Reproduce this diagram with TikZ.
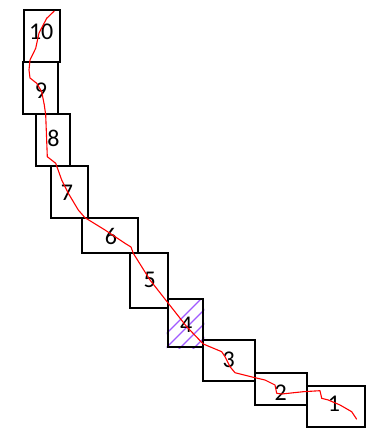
\documentclass[tikz,border=0pt]{standalone}
\usepackage{fontspec}
\setmainfont{Carlito}
\definecolor{hatchviolet}{RGB}{160,90,255}
\begin{document}
\begin{tikzpicture}[
    x=1pt, y=-1pt,
    cell/.style={draw, line width=2pt, inner sep=0pt},
    num/.style={inner sep=0pt, font=\fontsize{24}{26}\selectfont},
    track/.style={red, line width=1.1pt, line join=round},
    hatch/.style={color=hatchviolet, line width=1.3pt}
]
    \useasboundingbox (0,0) rectangle (382,428);

    % cells: name / left / right / top / bottom
    \foreach \n/\xa/\xb/\ya/\yb in {10/24.3/60.3/10.3/62.3, 9/22.7/58.3/62.3/114, 8/36.3/70/114/165.7,
        7/50.7/88/165.7/217.7, 6/82.3/138.3/217.7/253.3, 5/130.3/167.7/253.3/307.7,
        4/167.7/203.3/299.3/347.3, 3/203.3/255/340/380.7, 2/255/306.7/373/405, 1/306.7/364.7/386/426.7}
        \node[cell, minimum width=\xb pt-\xa pt, minimum height=\yb pt-\ya pt] (b\n) at ({(\xa+\xb)/2},{(\ya+\yb)/2}) {};

    % hatching of cell 4
    \begin{scope}
        \clip (b4.south west) rectangle (b4.north east);
        \foreach \k in {0,...,7}
            \draw[hatch] (150+14*\k,350) -- ++(60,-60);
    \end{scope}
    \node[cell, minimum width=35.6pt, minimum height=48pt] (b4) at (185.5,323.3) {};

    \node[num] (n10) at (41.2,32) {10};
    \node[num] (n9) at (41,90.7) {9};
    \node[num] (n8) at (53.5,138.7) {8};
    \node[num] (n7) at (67,192.3) {7};
    \node[num] (n6) at (111,236.3) {6};
    \node[num] (n5) at (149.7,279.5) {5};
    \node[num] (n4) at (186.3,325) {4};
    \node[num] (n3) at (228.8,359.5) {3};
    \node[num] (n2) at (280.8,392.5) {2};
    \node[num] (n1) at (334,403.3) {1};

    \draw[track] (54.3,11) -- (46.7,18.3) -- (39,33) -- (35.7,48.3) -- (30,60) -- (29,70) -- (30,78)
        -- (36.7,83.3) -- (41.7,91.7) -- (44.3,105) -- (45.7,115) -- (47.3,156.7) -- (55.7,163.3)
        -- (61.7,180) -- (68.3,193.3) -- (78.3,210) -- (85,217.7) -- (105,230) -- (125,243.3)
        -- (131,247) -- (133.3,253.3) -- (150,280) -- (168.3,303.3) -- (186.7,326.7) -- (203.3,344)
        -- (221.7,351.7) -- (225,356.7) -- (230,366.7) -- (235,372.7) -- (253.3,377.3) -- (265,380)
        -- (275,385) -- (276.7,393.3) -- (281.7,394) -- (303.3,391.7) -- (320,390.7) -- (321.7,398.3)
        -- (328.3,400) -- (340,405) -- (351.7,411.7) -- (356.7,419.3);
\end{tikzpicture}
\end{document}
